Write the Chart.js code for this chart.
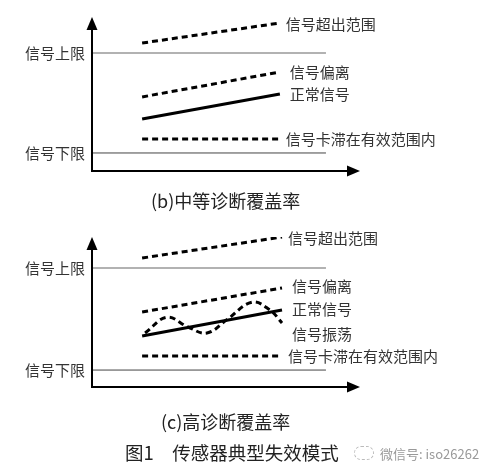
<!DOCTYPE html>
<html>
<head>
<meta charset="utf-8">
<script src="https://cdn.jsdelivr.net/npm/chart.js@4.4.0/dist/chart.umd.min.js"></script>
<style>
  body { margin: 0; background: #fff; width: 489px; height: 473px; position: relative; overflow: hidden;
         font-family: "Noto Sans CJK SC", sans-serif; color: #222; }
  canvas { position: absolute; left: 0; }
  #chartB { top: 0; }
  #chartC { top: 220px; }
  .cap { position: absolute; white-space: nowrap; line-height: 1; }
  #capB { top: 191px; left: 151px; font-size: 18px; }
  #capC { top: 412px; left: 161px; font-size: 18px; }
  #title { top: 443px; left: 125px; font-size: 18.5px; }
  #wm { top: 446px; left: 354px; font-size: 13px; color: #999; }
  #wm span.ic { display: inline-block; width: 18px; height: 12px; border: 1px dashed #bbb; border-radius: 8px; margin-right: 6px; vertical-align: -1px; }
</style>
</head>
<body>
<canvas id="chartB" width="489" height="215"></canvas>
<canvas id="chartC" width="489" height="253"></canvas>
<div class="cap" id="capB">(b)中等诊断覆盖率</div>
<div class="cap" id="capC">(c)高诊断覆盖率</div>
<div class="cap" id="title">图1　传感器典型失效模式</div>
<div class="cap" id="wm"><span class="ic"></span>微信号: iso26262</div>
<script>
// axis labels for the two limit lines
const limitLabels = ["信号上限", "信号下限"];
const limitX = [0, 87.3];

// (b) medium diagnostic coverage
const bLimits = [76.6, 11.7];
const bNames = ["信号超出范围", "信号偏离", "正常信号", "信号卡滞在有效范围内"];
const bX = [18.7, 70.1];
const bOut = [83.1, 96.1];
const bDrift = [48.1, 64.3];
const bNormal = [33.8, 50];
const bStuck = [20.8, 20.8];

// (c) high diagnostic coverage
const cLimits = [79.3, 11.3];
const cNames = ["信号超出范围", "信号偏离", "正常信号", "信号振荡", "信号卡滞在有效范围内"];
const cX = [18.7, 70.9];
const cOut = [86, 100];
const cDrift = [50, 66];
const cNormal = [34, 51.3];
const cStuck = [20.7, 20.7];
const oscX = [19.8, 28, 35.8, 42.9, 50.4, 59.7, 66.4, 70.9];
const oscY = [36, 46.5, 40, 36, 45, 56.5, 51.3, 42.7];

const FONT = '"Noto Sans CJK SC", sans-serif';

const pts = (xs, ys) => xs.map((x, i) => ({ x: x, y: ys[i] }));

function dashed(data, label, off) {
  return { data: data, label: label, off: off, borderColor: "#000", borderWidth: 3,
           borderDash: [6, 4], pointRadius: 0, fill: false };
}
function solid(data, label, off) {
  return { data: data, label: label, off: off, borderColor: "#000", borderWidth: 3,
           pointRadius: 0, fill: false };
}
function limitSet(v, col, w) {
  return { data: pts(limitX, [v, v]), borderColor: col, borderWidth: w, pointRadius: 0, fill: false };
}

// draws the arrowed axes, the limit labels and the curve names
const decor = {
  id: "decor",
  afterDatasetsDraw(chart) {
    const ctx = chart.ctx, a = chart.chartArea;
    const xs = chart.scales.x, ys = chart.scales.y;
    ctx.save();
    ctx.strokeStyle = "#000";
    ctx.fillStyle = "#000";
    ctx.lineWidth = 2;
    ctx.beginPath();
    ctx.moveTo(a.left, a.top + 10);
    ctx.lineTo(a.left, a.bottom);
    ctx.lineTo(a.right - 10, a.bottom);
    ctx.stroke();
    ctx.beginPath();
    ctx.moveTo(a.left, a.top);
    ctx.lineTo(a.left - 5.5, a.top + 13);
    ctx.lineTo(a.left + 5.5, a.top + 13);
    ctx.closePath();
    ctx.fill();
    ctx.beginPath();
    ctx.moveTo(a.right, a.bottom);
    ctx.lineTo(a.right - 13, a.bottom - 5.5);
    ctx.lineTo(a.right - 13, a.bottom + 5.5);
    ctx.closePath();
    ctx.fill();

    ctx.font = "15px " + FONT;
    ctx.fillStyle = "#333";
    ctx.textBaseline = "middle";
    ctx.textAlign = "right";
    chart.options.plugins.decor.limits.forEach((v, i) => {
      ctx.fillText(limitLabels[i], a.left - 7, ys.getPixelForValue(v));
    });
    ctx.textAlign = "left";
    chart.data.datasets.forEach(ds => {
      if (!ds.label) return;
      const p = ds.data[ds.data.length - 1];
      ctx.fillText(ds.label, xs.getPixelForValue(p.x) + ds.off[0], ys.getPixelForValue(p.y) + ds.off[1]);
    });
    ctx.restore();
  }
};

function makeChart(id, datasets, limits, pad) {
  return new Chart(document.getElementById(id), {
    type: "line",
    data: { datasets: datasets },
    plugins: [decor],
    options: {
      responsive: false,
      animation: false,
      layout: { padding: pad },
      elements: { line: { borderCapStyle: "butt" } },
      scales: {
        x: { type: "linear", min: 0, max: 100, display: false },
        y: { type: "linear", min: 0, max: 100, display: false }
      },
      plugins: { legend: { display: false }, tooltip: { enabled: false }, decor: { limits: limits } }
    }
  });
}

makeChart("chartB", [
  limitSet(bLimits[0], "#999", 1.6),
  limitSet(bLimits[1], "#444", 1),
  dashed(pts(bX, bOut), bNames[0], [6, 1]),
  dashed(pts(bX, bDrift), bNames[1], [10, 0]),
  solid(pts(bX, bNormal), bNames[2], [10, 0]),
  dashed(pts(bX, bStuck), bNames[3], [6, 0])
], bLimits, { left: 92, right: 129, top: 17, bottom: 44 });

const osc = dashed(pts(oscX, oscY), cNames[3], [10, 11]);
osc.tension = 0.4;
osc.borderDash = [6, 4];

makeChart("chartC", [
  limitSet(cLimits[0], "#999", 1.6),
  limitSet(cLimits[1], "#444", 1),
  dashed(pts(cX, cOut), cNames[0], [6, 1]),
  dashed(pts(cX, cDrift), cNames[1], [10, -2]),
  solid(pts(cX, cNormal), cNames[2], [10, -1]),
  osc,
  dashed(pts(cX, cStuck), cNames[4], [6, 0])
], cLimits, { left: 92, right: 129, top: 17, bottom: 86 });
</script>
</body>
</html>
